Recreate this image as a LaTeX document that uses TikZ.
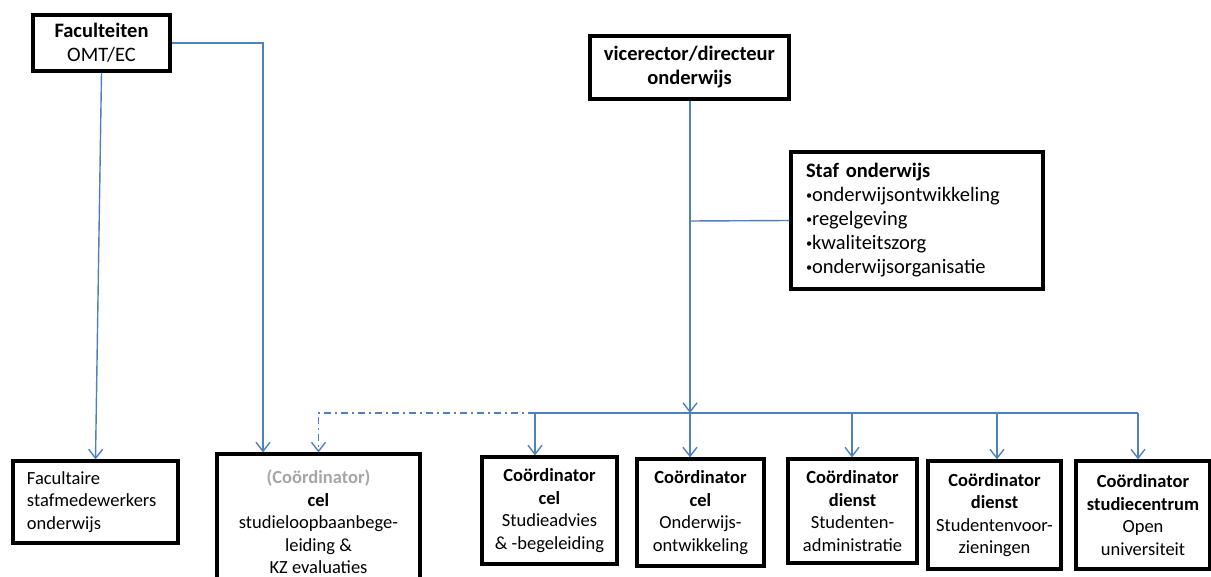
\documentclass[tikz,border=0pt]{standalone}
\usepackage{fontspec}
\setmainfont{Carlito}
\usetikzlibrary{positioning, arrows.meta}
\definecolor{lineblue}{HTML}{4F81BD}
\definecolor{greytext}{HTML}{A6A6A6}
\newcommand{\stafbullet}{\raisebox{0.2ex}{\scalebox{0.6}{\textbullet}}}

\begin{document}
\begin{tikzpicture}[x=1pt,y=-1pt,
    box/.style={draw, line width=3.2pt, align=center, inner sep=0pt, font=\fontsize{18.5}{22.5}\selectfont},
    topbox/.style={box, font=\fontsize{20.5}{24}\selectfont},
    plain/.style={draw=lineblue, line width=1.4pt},
    link/.style={plain, -{Straight Barb[length=9pt,width=14pt]}},
    dashdot/.style={dash pattern=on 7pt off 4pt on 2pt off 4pt}]
        \useasboundingbox (0,0) rectangle (1211,577);
        % top
        \node[topbox, minimum width=137, minimum height=56] (fac) at (101.5,43) {\textbf{Faculteiten}\\OMT/EC};
        \node[topbox, minimum width=199, minimum height=63] (vr) at (689.5,67.5) {\textbf{vicerector/directeur}\\\textbf{onderwijs}};
        \node[topbox, align=left, text width=222, minimum width=252, minimum height=137] (staf) at (917,220.5)
            {\textbf{Staf onderwijs}\\\stafbullet onderwijsontwikkeling\\\stafbullet regelgeving\\\stafbullet kwaliteitszorg\\\stafbullet onderwijsorganisatie};
        % bottom row
        \node[box, align=left, text width=137, minimum width=165, minimum height=82] (fsm) at (95.5,502) {Facultaire\\stafmedewerkers\\onderwijs};
        \node[box, minimum width=203, minimum height=136] (cel) at (318.5,522)
            {\textcolor{greytext}{\textbf{(Coördinator)}}\\\textbf{cel}\\studieloopbaanbege-\\leiding \&\\KZ evaluaties};
        \node[box, minimum width=135, minimum height=107] (c1) at (549.5,510.5) {\textbf{Coördinator}\\\textbf{cel}\\Studieadvies\\\& -begeleiding};
        \node[box, minimum width=127, minimum height=107] (c2) at (700.5,512.5) {\textbf{Coördinator}\\\textbf{cel}\\Onderwijs-\\ontwikkeling};
        \node[box, minimum width=129, minimum height=104] (c3) at (852.5,511) {\textbf{Coördinator}\\\textbf{dienst}\\Studenten-\\administratie};
        \node[box, minimum width=133, minimum height=108] (c4) at (994.5,515) {\textbf{Coördinator}\\\textbf{dienst}\\Studentenvoor-\\zieningen};
        \node[box, minimum width=134, minimum height=108] (c5) at (1143,515) {\textbf{Coördinator}\\\textbf{studiecentrum}\\Open\\universiteit};
        % connectors
        \coordinate (b1) at (535,413);
        \coordinate (b2) at (690,413);
        \coordinate (b3) at (852,413);
        \coordinate (b4) at (997,413);
        \coordinate (b5) at (1138,413);
        \coordinate (sj) at (690,221);
        \draw[link] (vr.south -| b2) -- (b2);
        \draw[plain] (sj) -- (staf.west);
        \draw[plain] (b1) -- (b5);
        \foreach \c/\b in {c1/b1,c2/b2,c3/b3,c4/b4,c5/b5}
            \draw[link] (\b) -- (\b |- \c.north);
        \draw[link] (fac.south) -- (fsm.north);
        \draw[link] (fac.east) -| ([xshift=-55.5pt]cel.north);
        \draw[link, dashdot] (b1) -| (cel.north);
    \end{tikzpicture}
\end{document}
